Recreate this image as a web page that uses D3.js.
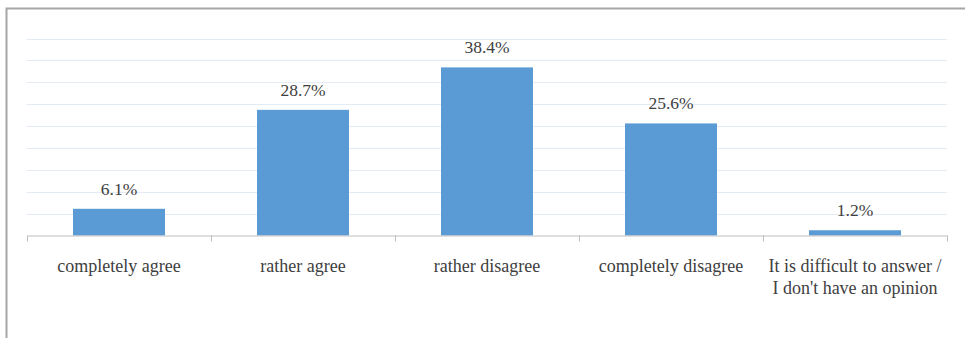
<!DOCTYPE html>
<html><head><meta charset="utf-8">
<script src="https://cdn.jsdelivr.net/npm/d3@7"></script>
<style>body{margin:0;background:#fff}svg{display:block}</style>
</head><body><svg id="c" width="965" height="338"></svg>
<script>
const categories = ["completely agree","rather agree","rather disagree","completely disagree","It is difficult to answer /\nI don't have an opinion"];
const values = [6.1, 28.7, 38.4, 25.6, 1.2];
const yTicks = [0,5,10,15,20,25,30,35,40,45];

(function(){
const svg = d3.select("#c");
const left = 27, right = 947, plotTop = 38.5, bottom = 235.5;
const x = d3.scaleBand().domain(categories).range([left, right]).paddingInner(0).paddingOuter(0);
const y = d3.scaleLinear().domain([0,45]).range([bottom, plotTop]);
const font = "Liberation Serif, serif";

svg.append("rect").attr("x",6.5).attr("y",8.5).attr("width",1000).attr("height",400)
  .attr("fill","none").attr("stroke","#a6a6a6").attr("stroke-width",2);

svg.append("g").selectAll("line").data(yTicks.slice(1)).join("line")
  .attr("x1",left).attr("x2",right).attr("y1",d=>Math.round(y(d))+0.5).attr("y2",d=>Math.round(y(d))+0.5)
  .attr("stroke","#e3ebf5").attr("stroke-width",1);

const bw = x.bandwidth()*0.5;
svg.append("g").selectAll("rect").data(values).join("rect")
  .attr("x",(d,i)=>x(categories[i])+x.bandwidth()/2-bw/2)
  .attr("width",bw)
  .attr("y",d=>y(d)).attr("height",d=>bottom-y(d))
  .attr("fill","#5b9bd5");

const ax = svg.append("g").attr("transform",`translate(0,${bottom})`)
  .call(d3.axisBottom(x).tickSize(0).tickFormat(""));
ax.select(".domain").attr("stroke","#bfbfbf");
const bounds = categories.map(c=>x(c)).concat([right]);
svg.append("g").selectAll("line").data(bounds).join("line")
  .attr("x1",d=>Math.round(d)+0.5).attr("x2",d=>Math.round(d)+0.5)
  .attr("y1",bottom).attr("y2",bottom+6).attr("stroke","#bfbfbf");

svg.append("g").selectAll("text").data(values).join("text")
  .attr("x",(d,i)=>x(categories[i])+x.bandwidth()/2)
  .attr("y",d=>y(d)-14)
  .attr("text-anchor","middle").style("font-family",font).attr("font-size",17.5)
  .attr("fill","#404040").text(d=>d.toFixed(1)+"%");

const lab = svg.append("g").selectAll("text").data(categories).join("text")
  .attr("x",d=>x(d)+x.bandwidth()/2).attr("y",272)
  .attr("text-anchor","middle").style("font-family",font).attr("font-size",18).attr("fill","#404040");
lab.each(function(d){
  const t=d3.select(this);
  d.split("\n").forEach((s,i)=>t.append("tspan").attr("x",x(d)+x.bandwidth()/2).attr("dy",i?21.5:0).text(s));
});
})();
</script></body></html>
